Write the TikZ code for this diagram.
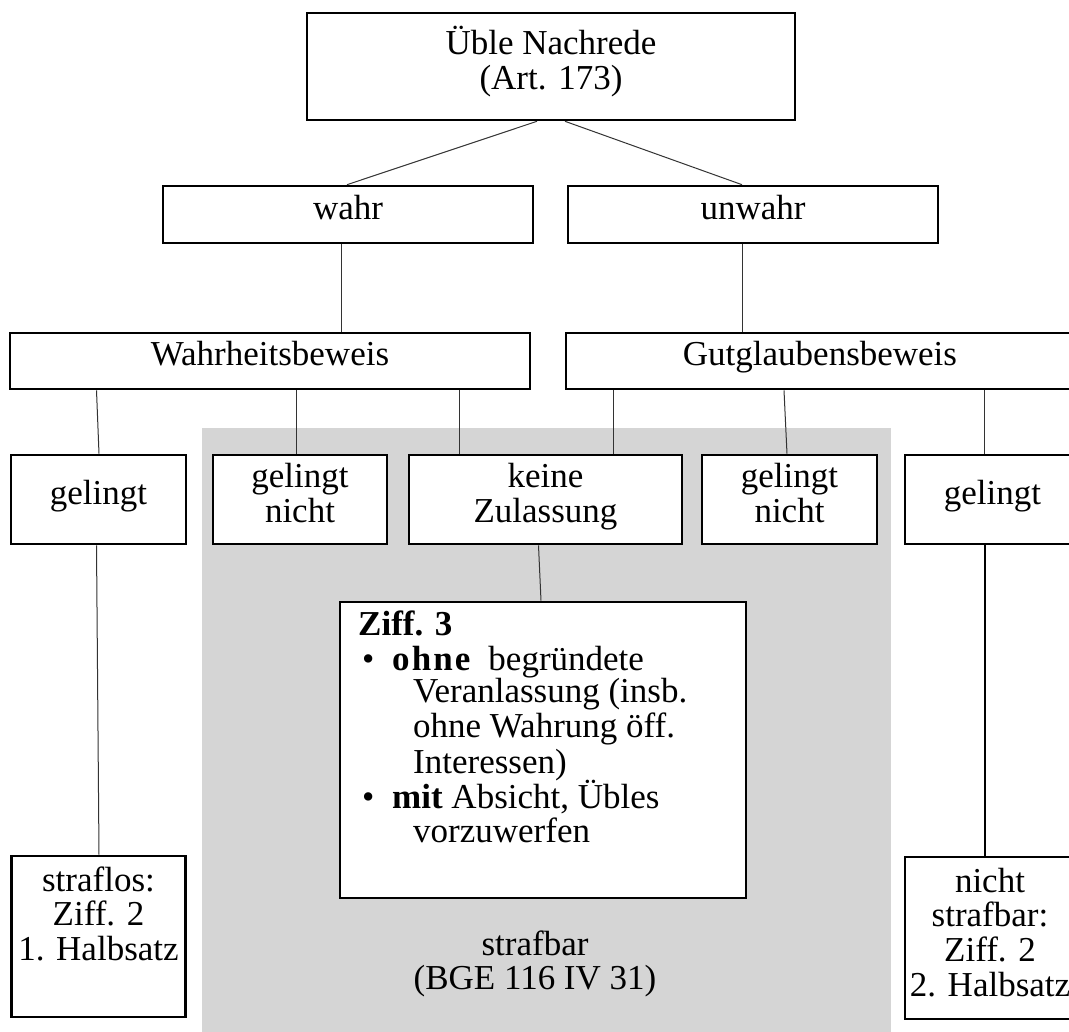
\documentclass[tikz,border=0pt]{standalone}
\usepackage{fontspec}
\setmainfont{Liberation Serif}
\definecolor{bggray}{RGB}{213,213,213}
\newcommand\mainfs{\fontsize{35}{34.5}\selectfont}
\newcommand\lines[1]{\begin{tabular}[t]{@{}c@{}}#1\end{tabular}}
\begin{document}
\begin{tikzpicture}[x=1pt,y=-1pt,
  box/.style={draw, line width=2.6pt, fill=white, inner sep=0pt, align=center, font=\mainfs},
  onel/.style={text height=20pt, text depth=10pt},
  twol/.style={text height=20pt, text depth=44pt},
  conn/.style={line width=1pt, draw=black!80},
  thickconn/.style={line width=2.2pt, draw=black},
  txt/.style={inner sep=0pt, anchor=base, font=\mainfs},
  lft/.style={inner sep=0pt, anchor=base west, font=\mainfs}]
\useasboundingbox (0,0) rectangle (1069,1032);
\fill[white] (0,0) rectangle (1069,1032);
\fill[bggray] (202,428) rectangle (891,1040);

% level 0
\node[box, twol, minimum width=488pt, minimum height=107pt] (top) at (551,66.5) {\lines{Üble Nachrede\\(Art. 173)}};
% level 1
\node[box, onel, minimum width=370pt, minimum height=57pt] (wahr) at (348,214.5) {wahr};
\node[box, onel, minimum width=370pt, minimum height=57pt] (unwahr) at (753,214.5) {unwahr};
% level 2
\node[box, onel, minimum width=520pt, minimum height=56pt] (wb) at (270,361) {Wahrheitsbeweis};
\node[box, onel, minimum width=508pt, minimum height=56pt] (gb) at (820,361) {Gutglaubensbeweis};
% level 3
\node[box, onel, minimum width=175pt, minimum height=89pt] (gl) at (98.5,499.5) {gelingt};
\node[box, twol, minimum width=174pt, minimum height=89pt] (gnl) at (300,499.5) {\lines{gelingt\\nicht}};
\node[box, twol, minimum width=273pt, minimum height=89pt] (kz) at (545.5,499.5) {\lines{keine\\Zulassung}};
\node[box, twol, minimum width=175pt, minimum height=89pt] (gnr) at (789.5,499.5) {\lines{gelingt\\nicht}};
\node[box, onel, minimum width=175pt, minimum height=89pt] (gr) at (992.5,499.5) {gelingt};
% level 4
\node[box, minimum width=406pt, minimum height=296pt] (ziff) at (543,750) {};
\node[box, minimum width=174pt, minimum height=161pt] (sf) at (98.5,936.5) {};
\node[box, minimum width=175pt, minimum height=162pt] (ns) at (992.5,938) {};

% texts of the lower boxes
\node[txt] (sft) at (98.5,891) {\lines{straflos:\\Ziff. 2\\1. Halbsatz}};
\node[txt] (nst) at (990,892) {\lines{nicht\\strafbar:\\Ziff. 2\\2. Halbsatz}};
\node[txt] (sb) at (535,955) {\lines{strafbar\\(BGE 116 IV 31)}};

\node[lft] (z0) at (358,635) {\textbf{Ziff. 3}};
\node[lft] (b1) at (362,670) {\textbullet};
\node[lft] (z1) at (392,670) {{\bfseries\addfontfeatures{LetterSpace=6}ohne}\hspace{18pt}begründete};
\node[lft] (z2) at (413,702) {Veranlassung (insb.};
\node[lft] (z3) at (413,737) {ohne Wahrung öff.};
\node[lft] (z4) at (413,773) {Interessen)};
\node[lft] (b2) at (362,808) {\textbullet};
\node[lft] (z5) at (392,808) {\textbf{mit} Absicht, Übles};
\node[lft] (z6) at (413,842) {vorzuwerfen};

% connectors
\draw[conn] ([xshift=-14pt]top.south) -- ([xshift=-1pt]wahr.north);
\draw[conn] ([xshift=14pt]top.south) -- ([xshift=-11pt]unwahr.north);
\draw[conn] ([xshift=-7pt]wahr.south) -- ([xshift=71pt]wb.north);
\draw[conn] ([xshift=-11pt]unwahr.south) -- ([xshift=-78pt]gb.north);
\draw[conn] ([xshift=-173.5pt]wb.south) -- ([xshift=0.5pt]gl.north);
\draw[conn] ([xshift=26pt]wb.south) -- ([xshift=-4pt]gnl.north);
\draw[conn] ([xshift=189pt]wb.south) -- ([xshift=-86.5pt]kz.north);
\draw[conn] ([xshift=-206.5pt]gb.south) -- ([xshift=68pt]kz.north);
\draw[conn] ([xshift=-36pt]gb.south) -- ([xshift=-2.5pt]gnr.north);
\draw[conn] ([xshift=164.5pt]gb.south) -- ([xshift=-8pt]gr.north);
\draw[conn] ([xshift=-2pt]gl.south) -- ([xshift=0.5pt]sf.north);
\draw[conn] ([xshift=-7pt]kz.south) -- ([xshift=-2pt]ziff.north);
\draw[thickconn] ([xshift=-7.5pt]gr.south) -- ([xshift=-7.5pt]ns.north);
\end{tikzpicture}
\end{document}
